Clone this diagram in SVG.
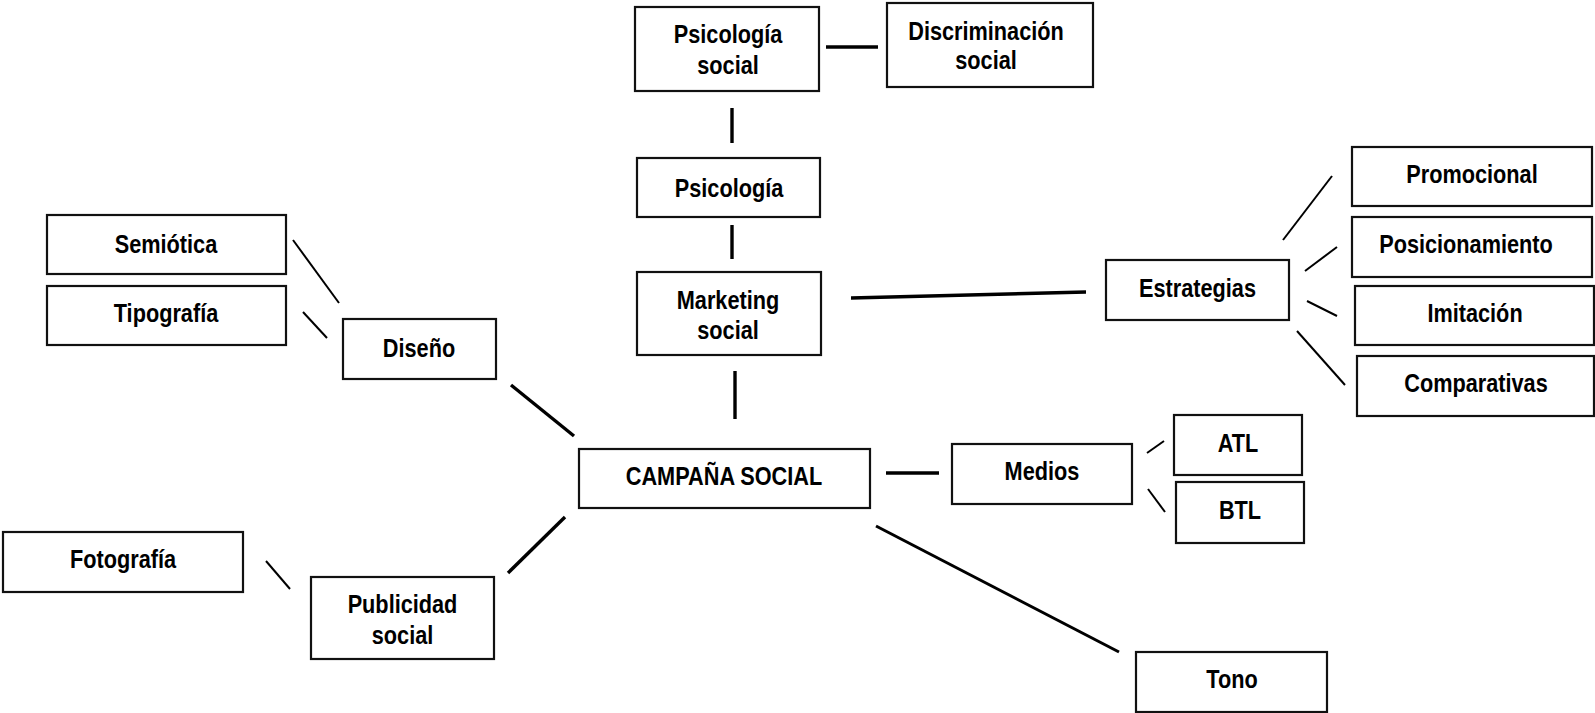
<svg xmlns="http://www.w3.org/2000/svg" width="1595" height="713" viewBox="0 0 1595 713">
<style>
.box{fill:#fff;stroke:#111;stroke-width:2.2}
.t{font-family:"Liberation Sans","Arial",sans-serif;font-weight:bold;font-size:26px;fill:#000;text-anchor:middle}
.c{stroke:#000;stroke-linecap:butt;fill:none}
.k{stroke-width:3.4}
.n{stroke-width:2}
</style>
<rect width="1595" height="713" fill="#fff"/>
<g id="connectors">
<line class="c k" x1="826" y1="47" x2="878" y2="47"/>
<line class="c k" x1="732" y1="108" x2="732" y2="143"/>
<line class="c k" x1="732" y1="225" x2="732" y2="259"/>
<line class="c k" x1="851" y1="298" x2="1086" y2="292"/>
<line class="c k" x1="735" y1="371" x2="735" y2="419"/>
<line class="c k" x1="511" y1="385" x2="574" y2="436"/>
<line class="c k" x1="565" y1="517" x2="508" y2="573"/>
<line class="c k" x1="886" y1="473" x2="939" y2="473"/>
<line class="c" stroke-width="3" x1="876" y1="526" x2="1119" y2="652"/>
<line class="c n" x1="293" y1="240" x2="339" y2="303"/>
<line class="c n" x1="303" y1="312" x2="327" y2="338"/>
<line class="c n" x1="266" y1="561" x2="290" y2="589"/>
<line class="c n" x1="1283" y1="240" x2="1332" y2="176"/>
<line class="c n" x1="1305" y1="271" x2="1337" y2="247"/>
<line class="c n" x1="1307" y1="301" x2="1337" y2="316"/>
<line class="c n" x1="1297" y1="331" x2="1345" y2="385"/>
<line class="c n" x1="1147" y1="453" x2="1164" y2="441"/>
<line class="c n" x1="1148" y1="489" x2="1165" y2="512"/>
</g>
<g id="psicologia-social"><rect class="box" x="635" y="7" width="184" height="84"/><text class="t" transform="translate(728 43) scale(0.835 1)">Psicología</text><text class="t" transform="translate(728 74) scale(0.835 1)">social</text></g>
<g id="discriminacion-social"><rect class="box" x="887" y="3" width="206" height="84"/><text class="t" transform="translate(986 40) scale(0.835 1)">Discriminación</text><text class="t" transform="translate(986 69) scale(0.835 1)">social</text></g>
<g id="psicologia"><rect class="box" x="637" y="158" width="183" height="59"/><text class="t" transform="translate(729 197) scale(0.835 1)">Psicología</text></g>
<g id="marketing-social"><rect class="box" x="637" y="272" width="184" height="83"/><text class="t" transform="translate(728 309) scale(0.835 1)">Marketing</text><text class="t" transform="translate(728 339) scale(0.835 1)">social</text></g>
<g id="estrategias"><rect class="box" x="1106" y="260" width="183" height="60"/><text class="t" transform="translate(1197.5 297) scale(0.835 1)">Estrategias</text></g>
<g id="promocional"><rect class="box" x="1352" y="147" width="240" height="59"/><text class="t" transform="translate(1472 183) scale(0.835 1)">Promocional</text></g>
<g id="posicionamiento"><rect class="box" x="1352" y="217" width="240" height="60"/><text class="t" transform="translate(1466 253) scale(0.835 1)">Posicionamiento</text></g>
<g id="imitacion"><rect class="box" x="1355" y="286" width="239" height="59"/><text class="t" transform="translate(1475 322) scale(0.835 1)">Imitación</text></g>
<g id="comparativas"><rect class="box" x="1357" y="356" width="237" height="60"/><text class="t" transform="translate(1476 392) scale(0.835 1)">Comparativas</text></g>
<g id="semiotica"><rect class="box" x="47" y="215" width="239" height="59"/><text class="t" transform="translate(166 253) scale(0.835 1)">Semiótica</text></g>
<g id="tipografia"><rect class="box" x="47" y="286" width="239" height="59"/><text class="t" transform="translate(166 322) scale(0.835 1)">Tipografía</text></g>
<g id="diseno"><rect class="box" x="343" y="319" width="153" height="60"/><text class="t" transform="translate(419 357) scale(0.835 1)">Diseño</text></g>
<g id="campana-social"><rect class="box" x="579" y="449" width="291" height="59"/><text class="t" transform="translate(724 485) scale(0.835 1)">CAMPAÑA SOCIAL</text></g>
<g id="medios"><rect class="box" x="952" y="444" width="180" height="60"/><text class="t" transform="translate(1042 480) scale(0.835 1)">Medios</text></g>
<g id="atl"><rect class="box" x="1174" y="415" width="128" height="60"/><text class="t" transform="translate(1238 452) scale(0.835 1)">ATL</text></g>
<g id="btl"><rect class="box" x="1176" y="482" width="128" height="61"/><text class="t" transform="translate(1240 519) scale(0.835 1)">BTL</text></g>
<g id="tono"><rect class="box" x="1136" y="652" width="191" height="60"/><text class="t" transform="translate(1232 688) scale(0.835 1)">Tono</text></g>
<g id="fotografia"><rect class="box" x="3" y="532" width="240" height="60"/><text class="t" transform="translate(123 568) scale(0.835 1)">Fotografía</text></g>
<g id="publicidad-social"><rect class="box" x="311" y="577" width="183" height="82"/><text class="t" transform="translate(402.5 613) scale(0.835 1)">Publicidad</text><text class="t" transform="translate(402.5 644) scale(0.835 1)">social</text></g>
</svg>
